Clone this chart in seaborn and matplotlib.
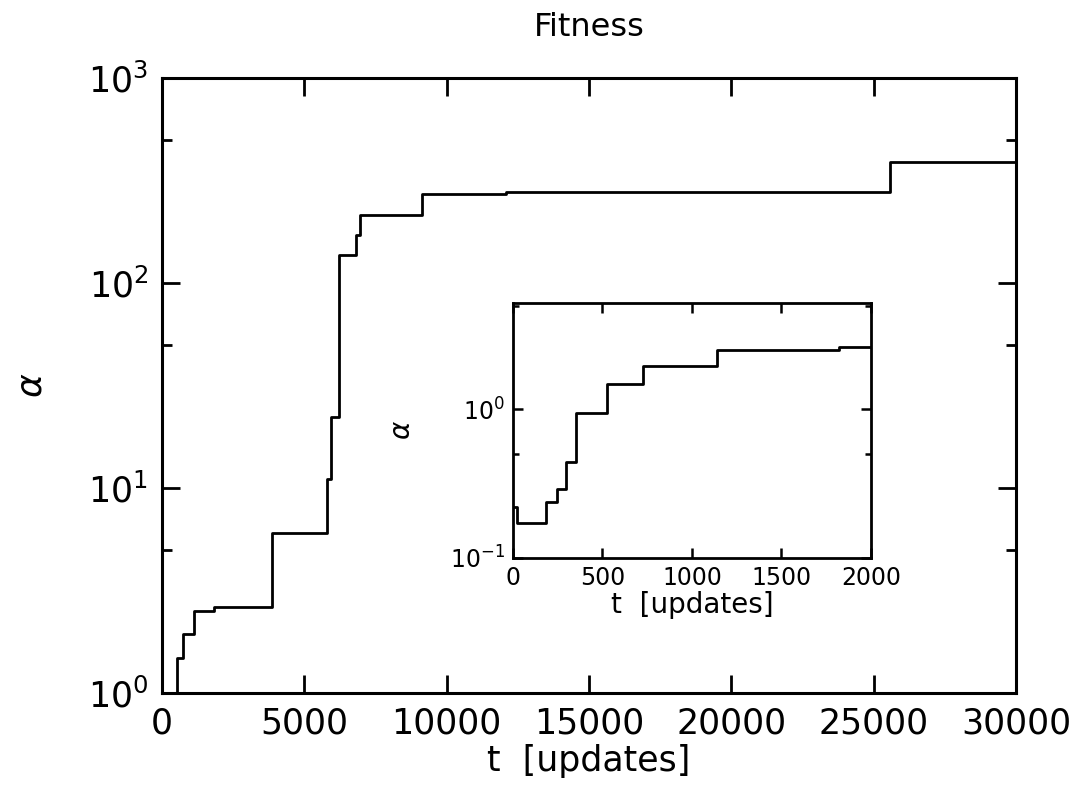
import numpy as np
import pandas as pd
import matplotlib
matplotlib.use("Agg")
import matplotlib.pyplot as plt
from matplotlib.ticker import LogLocator, LogFormatterMathtext, FixedLocator, NullFormatter
import seaborn as sns

# Step record of fitness: value holds from each update until the next one
t_updates = [0, 20, 187, 248, 295, 351, 526, 724, 1142, 1819,
             3870, 5800, 5940, 6230, 6820, 6960, 9150, 12100, 25570, 30000]
alpha_vals = [0.22, 0.172, 0.238, 0.29, 0.438, 0.94, 1.48, 1.95, 2.52, 2.62,
              6.0, 11.0, 22.2, 137, 171, 215, 272, 278, 390, 395]

main_xticks = [0, 5000, 10000, 15000, 20000, 25000, 30000]
inset_xticks = [0, 500, 1000, 1500, 2000]

df = pd.DataFrame({"t": t_updates, "alpha": alpha_vals})

sns.set_theme(style="ticks")
plt.rcParams["font.family"] = ["DejaVu Sans"]
plt.rcParams["mathtext.fontset"] = "dejavusans"

fig = plt.figure(figsize=(10.77, 7.89), dpi=100)
ax = fig.add_axes([0.1504, 0.1217, 0.793, 0.7795])

sns.lineplot(data=df, x="t", y="alpha", ax=ax, drawstyle="steps-post",
             color="black", linewidth=2.0, estimator=None, sort=False)
ax.set_yscale("log")
ax.set_xlim(0, 30000)
ax.set_ylim(1, 1000)
ax.xaxis.set_major_locator(FixedLocator(main_xticks))
ax.yaxis.set_major_locator(LogLocator(base=10, numticks=10))
ax.yaxis.set_major_formatter(LogFormatterMathtext())
ax.yaxis.set_minor_locator(LogLocator(base=10, subs=[5.0], numticks=10))
ax.yaxis.set_minor_formatter(NullFormatter())
ax.tick_params(which="both", direction="in", top=True, right=True, colors="black")
ax.tick_params(which="major", length=13, width=2, labelsize=25, pad=10)
ax.tick_params(which="minor", length=7, width=2)
for s in ax.spines.values():
    s.set_linewidth(2.2)
    s.set_color("black")
ax.set_xlabel("t  [updates]", fontsize=25, labelpad=2, color="black")
ax.set_ylabel(r"$\alpha$", fontsize=26, labelpad=28, color="black")
ax.set_title("Fitness", fontsize=23, pad=30, color="black")

# Inset: the first 2000 updates
ins = fig.add_axes([0.4763, 0.2934, 0.3324, 0.3226])
sns.lineplot(data=df, x="t", y="alpha", ax=ins, drawstyle="steps-post",
             color="black", linewidth=2.0, estimator=None, sort=False)
ins.set_yscale("log")
ins.set_xlim(0, 2000)
ins.set_ylim(0.1, 5.2)
ins.xaxis.set_major_locator(FixedLocator(inset_xticks))
ins.yaxis.set_major_locator(LogLocator(base=10, numticks=10))
ins.yaxis.set_major_formatter(LogFormatterMathtext())
ins.yaxis.set_minor_locator(LogLocator(base=10, subs=[5.0], numticks=10))
ins.yaxis.set_minor_formatter(NullFormatter())
ins.tick_params(which="both", direction="in", top=True, right=True, colors="black")
ins.tick_params(which="major", length=7, width=1.8, labelsize=17, pad=6)
ins.tick_params(which="minor", length=4, width=1.8)
for s in ins.spines.values():
    s.set_linewidth(2.0)
    s.set_color("black")
ins.set_xlabel("t  [updates]", fontsize=20, labelpad=1, color="black")
ins.set_ylabel(r"$\alpha$", fontsize=20, labelpad=24, color="black")

fig.savefig("out.png", dpi=100, facecolor="white")
